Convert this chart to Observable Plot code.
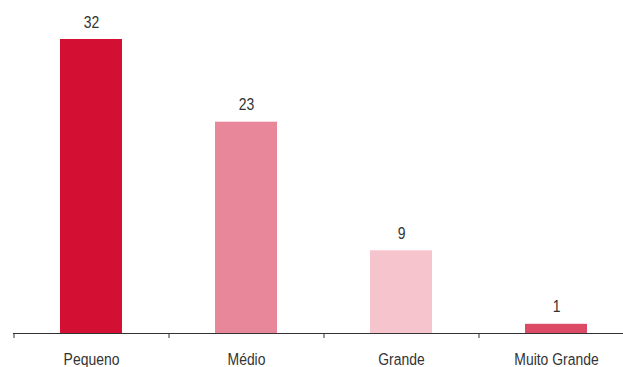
<!DOCTYPE html>
<html>
<head>
<meta charset="utf-8">
<script src="https://cdn.jsdelivr.net/npm/d3@7"></script>
<script src="https://cdn.jsdelivr.net/npm/@observablehq/plot@0.6"></script>
<style>
  html, body { margin: 0; padding: 0; background: #fff; }
  #chart svg { display: block; }
  /* narrow lettering, Arial-Narrow style */
  #chart svg text.narrow {
    transform-box: fill-box;
    transform-origin: center;
    transform: scaleX(0.82);
  }
</style>
</head>
<body>
<div id="chart"></div>
<script>
// Companies by size
const categories = ["Pequeno", "Médio", "Grande", "Muito Grande"];
const values = [32, 23, 9, 1];
const colors = ["#d31034", "#e8879a", "#f5c4cc", "#dc4a66"];

const data = categories.map((c, i) => ({ category: c, value: values[i], color: colors[i] }));

const width = 623;
const height = 367;
const xRange = [13, 633];
const step = (xRange[1] - xRange[0]) / categories.length;
const font = "'Liberation Sans', Arial, sans-serif";

const chart = Plot.plot({
  width,
  height,
  marginTop: 39,
  marginBottom: 34,
  marginLeft: 13,
  marginRight: 0,
  style: { fontFamily: font, fontSize: "17px", color: "#333", background: "#fff", overflow: "visible" },
  x: { domain: categories, range: xRange, paddingInner: 0.6, paddingOuter: 0.3, label: null, axis: null },
  y: { domain: [0, 32], axis: null },
  marks: [
    Plot.barY(data, { x: "category", y: "value", fill: "color" }),
    Plot.text(data, {
      x: "category", y: "value", text: d => String(d.value),
      dy: -12, lineAnchor: "bottom", fill: "#333", fontSize: 17
    }),
    Plot.ruleY([0], { stroke: "#333", strokeWidth: 1 }),
    // category labels under the baseline
    Plot.axisX({ tickSize: 0, tickPadding: 19, fill: "#333", fontSize: 17 }),
    // tick marks on the boundaries between categories
    Plot.axisX({ tickSize: 5, tickFormat: () => "", dx: -step / 2, stroke: "#333" })
  ]
});

// Move each text's positioning onto a wrapper group so the text itself can be narrowed in place
chart.querySelectorAll("text").forEach(t => {
  const g = document.createElementNS("http://www.w3.org/2000/svg", "g");
  const tr = t.getAttribute("transform");
  if (tr) { g.setAttribute("transform", tr); t.removeAttribute("transform"); }
  t.parentNode.insertBefore(g, t);
  g.appendChild(t);
  t.classList.add("narrow");
});

document.getElementById("chart").appendChild(chart);
</script>
</body>
</html>
